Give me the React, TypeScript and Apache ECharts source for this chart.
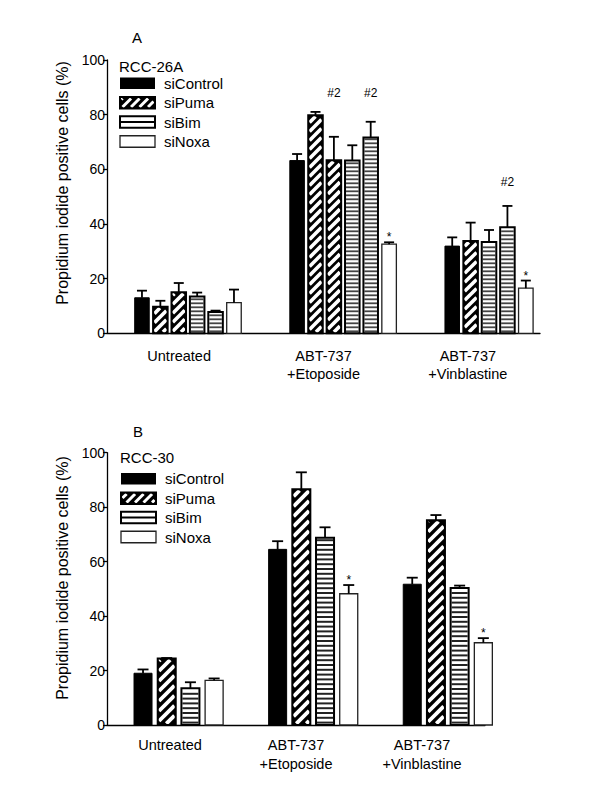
import React, { useEffect, useRef } from 'react';
import * as echarts from 'echarts';

const FONT = '"Liberation Sans", Arial, Helvetica, sans-serif';

// ---------- shared data ----------
const categories = ['Untreated', 'ABT-737\n+Etoposide', 'ABT-737\n+Vinblastine'];
const legendNames = ['siControl', 'siPuma', 'siBim', 'siNoxa'];
const legendPatterns = ['solid', 'diagonal', 'horizontal', 'open'];
const yAxisTitle = 'Propidium iodide positive cells (%)';

// ---------- Panel A : RCC-26A ----------
const cellLineA = 'RCC-26A';
const patternsA = [
  ['solid', 'diagonal', 'diagonal', 'horizontal', 'horizontal', 'open'],
  ['solid', 'diagonal', 'diagonal', 'horizontal', 'horizontal', 'open'],
  ['solid', 'diagonal', 'horizontal', 'horizontal', 'open'],
];
const meansA = [
  [13.0, 9.7, 15.0, 13.5, 7.8, 11.2],
  [63.2, 79.8, 63.3, 63.2, 71.6, 32.6],
  [31.9, 33.8, 33.4, 38.8, 16.5],
];
const semA = [
  [2.6, 2.2, 3.4, 1.4, 0.5, 4.8],
  [2.4, 1.2, 8.6, 5.6, 5.8, 0.7],
  [3.2, 6.7, 4.4, 7.8, 2.8],
];
const marksA = [
  ['', '', '', '', '', ''],
  ['', '', '#2', '', '#2', '*'],
  ['', '', '', '#2', '*'],
];
const hashLevelA = [0, 87.9, 55.5];

// ---------- Panel B : RCC-30 ----------
const cellLineB = 'RCC-30';
const patternsB = [
  ['solid', 'diagonal', 'horizontal', 'open'],
  ['solid', 'diagonal', 'horizontal', 'open'],
  ['solid', 'diagonal', 'horizontal', 'open'],
];
const meansB = [
  [19.0, 24.4, 13.5, 16.4],
  [64.5, 86.6, 68.8, 48.2],
  [51.7, 75.2, 50.3, 30.2],
];
const semB = [
  [1.4, 0.2, 2.2, 0.7],
  [3.0, 6.2, 3.8, 3.2],
  [2.4, 1.9, 0.9, 1.7],
];
const marksB = [
  ['', '', '', ''],
  ['', '', '', '*'],
  ['', '', '', '*'],
];
const hashLevelB = [0, 0, 0];

// ---------- layout (slot units on hidden value axis) ----------
const LAYOUT_A = { first: 1.9, groupPitch: 8.43, slots: 23.53, barW: 0.79 };
const LAYOUT_B = { first: 1.52, groupPitch: 5.68, slots: 15.95, barW: 0.76 };
const STYLE_A = { diagPeriod: 9, diagWidth: 3.6, hPeriod: 4, hColor: '#444', hWidth: 1.8, capW: 10, errW: 1.8 };
const STYLE_B = { diagPeriod: 10, diagWidth: 3.8, hPeriod: 4.8, hColor: '#222', hWidth: 2, capW: 11, errW: 1.8 };

function diagSegments(x0: number, y0: number, x1: number, y1: number, period: number) {
  const segs: number[][] = [];
  const cStart = Math.floor((x0 + y0) / period) * period;
  for (let c = cStart; c <= x1 + y1 + period; c += period) {
    const xa = Math.max(x0, c - y1);
    const xb = Math.min(x1, c - y0);
    if (xb > xa) segs.push([xa, c - xa, xb, c - xb]);
  }
  return segs;
}

function patternChildren(pattern: string, x0: number, y0: number, x1: number, y1: number, st: any) {
  const ch: any[] = [];
  const w = x1 - x0, h = y1 - y0;
  if (pattern === 'solid') {
    ch.push({ type: 'rect', shape: { x: x0, y: y0, width: w, height: h }, style: { fill: '#000', stroke: '#000', lineWidth: 1 } });
  } else if (pattern === 'diagonal') {
    ch.push({ type: 'rect', shape: { x: x0, y: y0, width: w, height: h }, style: { fill: '#000' } });
    diagSegments(x0 + 1.3, y0 + 1.3, x1 - 1.3, y1 - 1.3, st.diagPeriod).forEach((s) => {
      ch.push({ type: 'line', shape: { x1: s[0], y1: s[1], x2: s[2], y2: s[3] }, style: { stroke: '#fff', lineWidth: st.diagWidth } });
    });
    ch.push({ type: 'rect', shape: { x: x0, y: y0, width: w, height: h }, style: { fill: 'none', stroke: '#000', lineWidth: 2 } });
  } else if (pattern === 'horizontal') {
    ch.push({ type: 'rect', shape: { x: x0, y: y0, width: w, height: h }, style: { fill: '#fff' } });
    for (let y = y1 - st.hPeriod / 2; y > y0 + 1.5; y -= st.hPeriod) {
      ch.push({ type: 'line', shape: { x1: x0 + 1, y1: y, x2: x1 - 1, y2: y }, style: { stroke: st.hColor, lineWidth: st.hWidth } });
    }
    ch.push({ type: 'rect', shape: { x: x0, y: y0, width: w, height: h }, style: { fill: 'none', stroke: '#000', lineWidth: 2 } });
  } else {
    ch.push({ type: 'rect', shape: { x: x0, y: y0, width: w, height: h }, style: { fill: '#fff', stroke: '#222', lineWidth: 1.3 } });
  }
  return ch;
}

function buildSeries(patterns: string[][], means: number[][], sems: number[][], marks: string[][], hashLevel: number[], layout: any, st: any, axisIdx: number) {
  const data: number[][] = [];
  const meta: any[] = [];
  means.forEach((grp, g) => {
    grp.forEach((m, i) => {
      data.push([layout.first + g * layout.groupPitch + i, m, m + sems[g][i]]);
      meta.push({ pattern: patterns[g][i], mark: marks[g][i], level: hashLevel[g] });
    });
  });
  return {
    type: 'custom',
    xAxisIndex: axisIdx * 2 + 1,
    yAxisIndex: axisIdx,
    clip: false,
    silent: true,
    encode: { x: 0, y: [1, 2] },
    data,
    renderItem: (params: any, api: any) => {
      const mt = meta[params.dataIndex];
      const x = api.value(0), v = api.value(1), e = api.value(2);
      const top = api.coord([x, v]);
      const base = api.coord([x, 0]);
      const et = api.coord([x, e]);
      const w = api.size([layout.barW, 0])[0];
      const cx = top[0];
      const x0 = cx - w / 2, x1 = cx + w / 2;
      const children: any[] = patternChildren(mt.pattern, x0, top[1], x1, base[1], st);
      children.push({ type: 'line', shape: { x1: cx, y1: top[1], x2: cx, y2: et[1] }, style: { stroke: '#000', lineWidth: st.errW } });
      children.push({ type: 'line', shape: { x1: cx - st.capW / 2, y1: et[1], x2: cx + st.capW / 2, y2: et[1] }, style: { stroke: '#000', lineWidth: st.errW } });
      if (mt.mark === '*') {
        children.push({ type: 'text', x: cx, y: et[1] - 5, style: { text: '*', fill: '#000', fontSize: 12, fontFamily: FONT, align: 'center', verticalAlign: 'middle' } });
      } else if (mt.mark) {
        const ly = api.coord([x, mt.level])[1];
        children.push({ type: 'text', x: cx, y: ly, style: { text: mt.mark, fill: '#000', fontSize: 12, fontFamily: FONT, align: 'center', verticalAlign: 'middle' } });
      }
      return { type: 'group', children };
    },
  };
}

function legendGraphics(title: string, x: number, titleY: number, firstY: number, pitch: number) {
  const els: any[] = [];
  els.push({ type: 'text', x: x - 1, y: titleY, style: { text: title, fill: '#000', fontSize: 15, fontFamily: FONT, align: 'left', verticalAlign: 'middle' } });
  const sw = 35, sh = 11.5;
  legendNames.forEach((name, i) => {
    const cy = firstY + i * pitch;
    const x0 = x, y0 = cy - sh / 2, x1 = x + sw, y1 = cy + sh / 2;
    const p = legendPatterns[i];
    if (p === 'solid') {
      els.push({ type: 'rect', shape: { x: x0, y: y0, width: sw, height: sh }, style: { fill: '#000' } });
    } else if (p === 'diagonal') {
      els.push({ type: 'rect', shape: { x: x0, y: y0, width: sw, height: sh }, style: { fill: '#000' } });
      diagSegments(x0 + 1.5, y0 + 1.5, x1 - 1.5, y1 - 1.5, 8.5).forEach((s) => {
        els.push({ type: 'line', shape: { x1: s[0], y1: s[1], x2: s[2], y2: s[3] }, style: { stroke: '#fff', lineWidth: 3 } });
      });
      els.push({ type: 'rect', shape: { x: x0, y: y0, width: sw, height: sh }, style: { fill: 'none', stroke: '#000', lineWidth: 2 } });
    } else if (p === 'horizontal') {
      els.push({ type: 'rect', shape: { x: x0, y: y0, width: sw, height: sh }, style: { fill: '#fff', stroke: '#000', lineWidth: 2 } });
      els.push({ type: 'line', shape: { x1: x0, y1: cy, x2: x1, y2: cy }, style: { stroke: '#000', lineWidth: 2 } });
    } else {
      els.push({ type: 'rect', shape: { x: x0, y: y0, width: sw, height: sh }, style: { fill: '#fff', stroke: '#222', lineWidth: 1.3 } });
    }
    els.push({ type: 'text', x: x + 44, y: cy, style: { text: name, fill: '#000', fontSize: 15, fontFamily: FONT, align: 'left', verticalAlign: 'middle' } });
  });
  return els;
}

function catAxis(gridIndex: number, margin: number, lineHeight: number) {
  return {
    type: 'category', gridIndex, position: 'bottom', data: categories, boundaryGap: true,
    axisLine: { show: true, onZero: false, lineStyle: { color: '#000', width: 1.3 } },
    axisTick: { show: false },
    axisLabel: { color: '#000', fontSize: 14.5, fontFamily: FONT, margin, lineHeight, interval: 0 },
    splitLine: { show: false },
  };
}
function valXAxis(gridIndex: number, max: number) {
  return { type: 'value', gridIndex, position: 'top', min: 0, max, show: false, splitLine: { show: false } };
}
function yAx(gridIndex: number) {
  return {
    type: 'value', gridIndex, min: 0, max: 100, interval: 20,
    axisLine: { show: true, lineStyle: { color: '#000', width: 1.3 } },
    axisTick: { show: true, length: 4, lineStyle: { color: '#000', width: 1.3 } },
    axisLabel: { color: '#000', fontSize: 14, fontFamily: FONT, margin: 2 },
    splitLine: { show: false },
  };
}

export default function App() {
  const ref = useRef<HTMLDivElement>(null);
  useEffect(() => {
    if (!ref.current) return;
    const chart = echarts.init(ref.current, null, { renderer: 'svg' });
    const option: any = {
      animation: false,
      backgroundColor: '#fff',
      grid: [
        { left: 107, top: 60, width: 433, height: 273.3, outerBoundsMode: 'none' },
        { left: 107, top: 452.7, width: 378, height: 272.3, outerBoundsMode: 'none' },
      ],
      xAxis: [catAxis(0, 13, 18.5), valXAxis(0, LAYOUT_A.slots), catAxis(1, 10, 19), valXAxis(1, LAYOUT_B.slots)],
      yAxis: [yAx(0), yAx(1)],
      series: [
        buildSeries(patternsA, meansA, semA, marksA, hashLevelA, LAYOUT_A, STYLE_A, 0),
        buildSeries(patternsB, meansB, semB, marksB, hashLevelB, LAYOUT_B, STYLE_B, 1),
      ],
      graphic: [
        { type: 'text', x: 137, y: 37, style: { text: 'A', fill: '#000', fontSize: 15, fontFamily: FONT, align: 'center', verticalAlign: 'middle' } },
        { type: 'text', x: 138, y: 431, style: { text: 'B', fill: '#000', fontSize: 15, fontFamily: FONT, align: 'center', verticalAlign: 'middle' } },
        { type: 'text', x: 62, y: 183, rotation: Math.PI / 2, style: { text: yAxisTitle, fill: '#000', fontSize: 16, fontFamily: FONT, align: 'center', verticalAlign: 'middle' } },
        { type: 'text', x: 62, y: 578, rotation: Math.PI / 2, style: { text: yAxisTitle, fill: '#000', fontSize: 16, fontFamily: FONT, align: 'center', verticalAlign: 'middle' } },
        ...legendGraphics(cellLineA, 120, 66, 83.3, 19.4),
        ...legendGraphics(cellLineB, 121, 457.5, 478.8, 19.4),
      ],
    };
    chart.setOption(option);
    return () => chart.dispose();
  }, []);
  return <div ref={ref} style={{ position: 'fixed', left: 0, top: 0, width: 600, height: 807, background: '#fff' }} />;
}
